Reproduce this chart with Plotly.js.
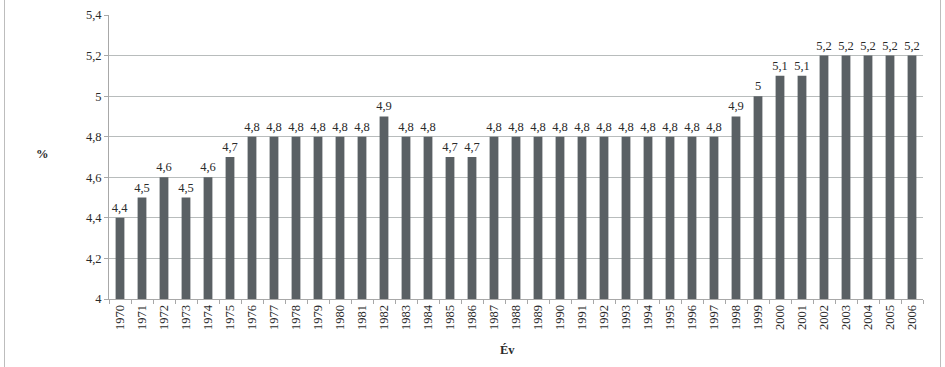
<!DOCTYPE html>
<html><head><meta charset="utf-8">
<script src="https://cdn.plot.ly/plotly-3.0.1.min.js"></script>
<style>html,body{margin:0;padding:0;background:#fff}#c{width:945px;height:367px}
#frame{position:absolute;left:4px;top:-2px;width:935px;height:380px;border:1px solid #bdbdbd;pointer-events:none}</style>
</head><body>
<div id="c"></div><div id="frame"></div>
<script>
const years = ['1970','1971','1972','1973','1974','1975','1976','1977','1978','1979','1980','1981','1982','1983','1984','1985','1986','1987','1988','1989','1990','1991','1992','1993','1994','1995','1996','1997','1998','1999','2000','2001','2002','2003','2004','2005','2006'];
const values = [4.4,4.5,4.6,4.5,4.6,4.7,4.8,4.8,4.8,4.8,4.8,4.8,4.9,4.8,4.8,4.7,4.7,4.8,4.8,4.8,4.8,4.8,4.8,4.8,4.8,4.8,4.8,4.8,4.9,5,5.1,5.1,5.2,5.2,5.2,5.2,5.2];
const yTicks = [4,4.2,4.4,4.6,4.8,5,5.2,5.4];
const fontF = "Liberation Serif";
Plotly.newPlot('c', [{
  type:'bar', x: years, y: values,
  marker:{color:'#5a6064'},
  text: values.map(v => String(v).replace('.', ',')),
  textposition:'outside', cliponaxis:false, constraintext:'none',
  textfont:{family:fontF, size:12.5, color:'#2a2a2a'},
  hoverinfo:'none'
}], {
  width:945, height:367,
  margin:{l:109, r:22, t:15, b:68},
  bargap:0.6,
  paper_bgcolor:'#fff', plot_bgcolor:'#fff',
  font:{family:fontF, size:12.5, color:'#2a2a2a'},
  showlegend:false,
  xaxis:{type:'category', tickangle:-90, ticks:'outside', tickson:'boundaries', ticklen:4,
    tickcolor:'#a8a8a8', showline:true, linecolor:'#a8a8a8', linewidth:1,
    tickfont:{family:fontF, size:12.5, color:'#2a2a2a'}},
  yaxis:{range:[4,5.4], tickvals:yTicks, ticktext:yTicks.map(v=>String(v).replace('.', ',')),
    ticks:'outside', ticklen:4, tickcolor:'#a8a8a8', showline:true, linecolor:'#a8a8a8',
    showgrid:true, gridcolor:'#b8bcbc', gridwidth:1, zeroline:false,
    tickfont:{family:fontF, size:12.5, color:'#2a2a2a'}},
  annotations:[
    {text:'<b>%</b>', xref:'paper', yref:'paper', x:-0.082, y:0.51, showarrow:false, xanchor:'center', yanchor:'middle', font:{family:fontF, size:12.5, color:'#2a2a2a'}},
    {text:'<b>Év</b>', xref:'paper', yref:'paper', x:0.4895, y:-0.18, showarrow:false, xanchor:'center', yanchor:'middle', font:{family:fontF, size:12.5, color:'#2a2a2a'}}
  ]
}, {staticPlot:true});
</script></body></html>
